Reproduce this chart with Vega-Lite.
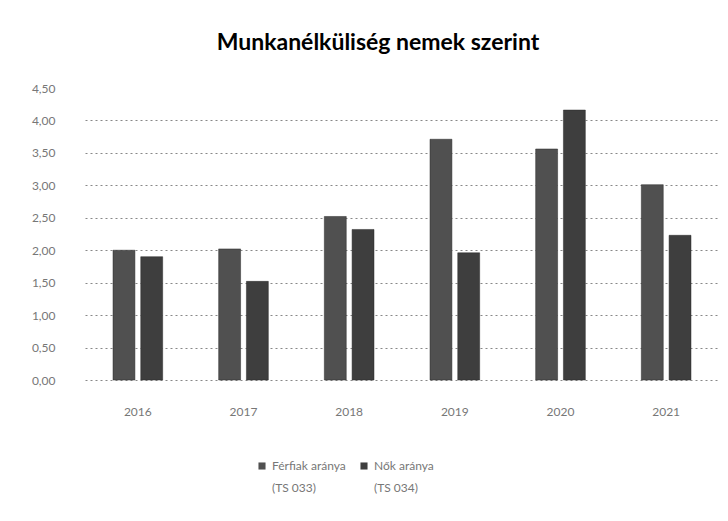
{
  "$schema": "https://vega.github.io/schema/vega-lite/v6.json",
  "width": 634,
  "height": 292,
  "autosize": "none",
  "padding": {"left": 85, "top": 88, "right": 9, "bottom": 141},
  "background": "white",
  "title": {
    "text": "Munkanélküliség nemek szerint",
    "font": "Lato",
    "fontSize": 23,
    "fontWeight": "bold",
    "color": "#000000",
    "anchor": "middle",
    "dx": -24,
    "offset": 27
  },
  "data": {
    "values": [
      {"year": "2016", "series": "Férfiak aránya|\u00a0(TS 033)", "value": 2.0},
      {"year": "2016", "series": "Nők aránya|\u00a0\u00a0(TS 034)", "value": 1.9},
      {"year": "2017", "series": "Férfiak aránya|\u00a0(TS 033)", "value": 2.02},
      {"year": "2017", "series": "Nők aránya|\u00a0\u00a0(TS 034)", "value": 1.52},
      {"year": "2018", "series": "Férfiak aránya|\u00a0(TS 033)", "value": 2.52},
      {"year": "2018", "series": "Nők aránya|\u00a0\u00a0(TS 034)", "value": 2.32},
      {"year": "2019", "series": "Férfiak aránya|\u00a0(TS 033)", "value": 3.71},
      {"year": "2019", "series": "Nők aránya|\u00a0\u00a0(TS 034)", "value": 1.96},
      {"year": "2020", "series": "Férfiak aránya|\u00a0(TS 033)", "value": 3.56},
      {"year": "2020", "series": "Nők aránya|\u00a0\u00a0(TS 034)", "value": 4.16},
      {"year": "2021", "series": "Férfiak aránya|\u00a0(TS 033)", "value": 3.01},
      {"year": "2021", "series": "Nők aránya|\u00a0\u00a0(TS 034)", "value": 2.23}
    ]
  },
  "mark": {"type": "bar", "stroke": "#2a2a2a", "strokeWidth": 0.5},
  "encoding": {
    "x": {
      "field": "year",
      "type": "nominal",
      "scale": {"paddingInner": 0.53, "paddingOuter": 0.265},
      "axis": {
        "title": null,
        "labelAngle": 0,
        "domain": false,
        "ticks": false,
        "labelPadding": 26,
        "labelFont": "Lato",
        "labelFontSize": 12,
        "labelColor": "#777777"
      }
    },
    "xOffset": {
      "field": "series",
      "type": "nominal",
      "scale": {"paddingInner": 0.21, "paddingOuter": 0}
    },
    "y": {
      "field": "value",
      "type": "quantitative",
      "scale": {"domain": [0, 4.5], "nice": false},
      "axis": {
        "title": null,
        "values": [0, 0.5, 1, 1.5, 2, 2.5, 3, 3.5, 4, 4.5],
        "labelExpr": "replace(format(datum.value, '.2f'), '.', ',')",
        "domain": false,
        "ticks": false,
        "labelPadding": 30,
        "labelFont": "Lato",
        "labelFontSize": 12,
        "labelColor": "#777777",
        "gridColor": "#888888",
        "gridDash": [2, 3],
        "gridWidth": 1,
        "gridOpacity": {"condition": {"test": "datum.value > 4.4", "value": 0}, "value": 1}
      }
    },
    "color": {
      "field": "series",
      "type": "nominal",
      "scale": {"range": ["#505050", "#3e3e3e"]},
      "legend": {
        "title": null,
        "orient": "none",
        "legendX": 171,
        "legendY": 372,
        "direction": "horizontal",
        "symbolType": "square",
        "symbolSize": 50,
        "symbolStrokeWidth": 0,
        "labelExpr": "split(datum.label, '|')",
        "labelFont": "Lato",
        "labelFontSize": 12,
        "labelColor": "#777777",
        "labelOffset": 4,
        "columnPadding": 12,
        "labelLimit": 200
      }
    }
  },
  "config": {
    "view": {"stroke": null},
    "style": {"guide-label": {"lineHeight": 22}}
  }
}
